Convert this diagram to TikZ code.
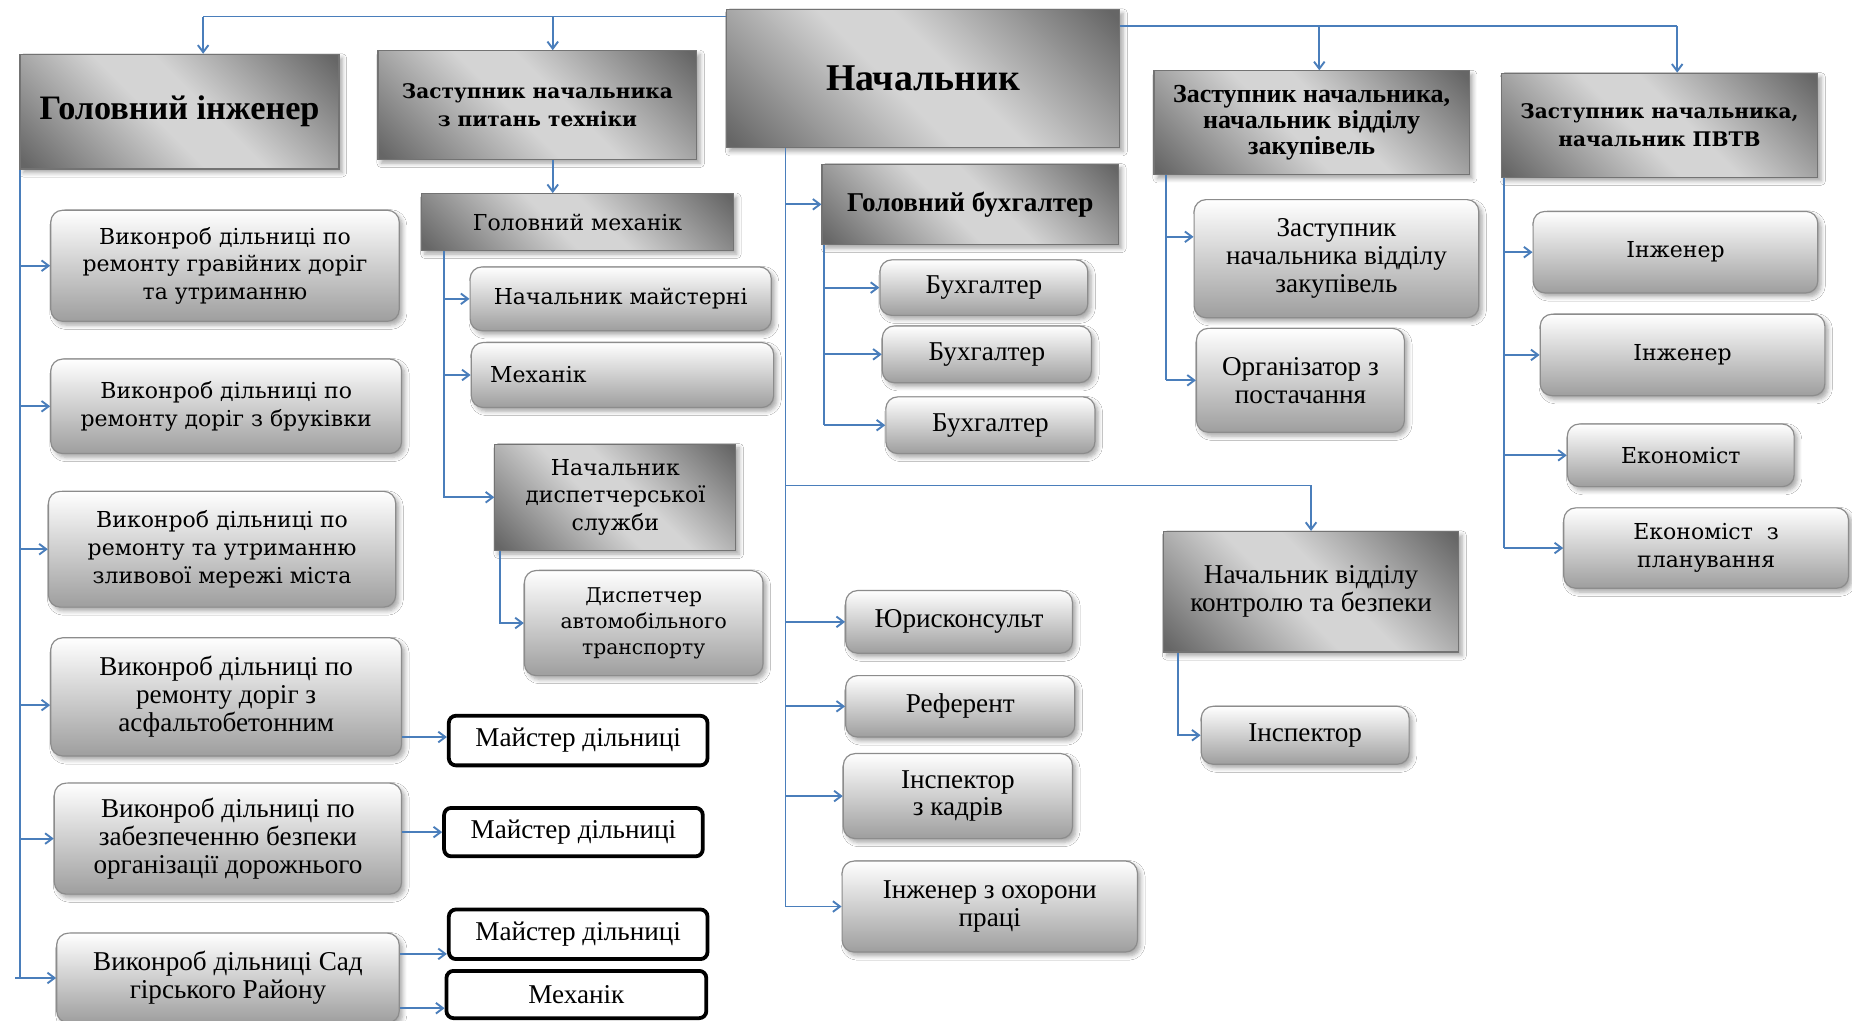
\documentclass[tikz,border=0pt]{standalone}
\usepackage{fontspec}
\setmainfont{Liberation Serif}
\newfontfamily\widefam{DejaVu Serif}
\usetikzlibrary{arrows.meta,shadows.blur,calc}
\definecolor{dkc}{HTML}{666666}
\definecolor{ltc}{HTML}{D4D4D4}
\definecolor{lnc}{HTML}{4A7EBB}
\pgfdeclareverticalshading{dkshade}{100bp}{color(0bp)=(dkc); color(16bp)=(dkc); color(45bp)=(ltc); color(55bp)=(ltc); color(84bp)=(dkc); color(100bp)=(dkc)}
\newcommand\ffA{\fontsize{11.5}{11.75}\selectfont}
\newcommand\ffB{\widefam\fontsize{9.3}{11.75}\selectfont}
\newcommand\ffC{\widefam\fontsize{8.6}{11}\selectfont}
\newcommand\ffD{\widefam\bfseries\fontsize{8.5}{11.5}\selectfont}
\newcommand\ffE{\bfseries\fontsize{11}{11}\selectfont}
\newcommand\putbox[7]{\node[#1, minimum width={(#5-#3)*0.5pt}, minimum height={(#6-#4)*0.5pt}] (#2) at ({(#3+#5)/2},{(#4+#6)/2}) {#7};}
\tikzset{
  shd/.style={blur shadow={shadow xshift=1.4pt, shadow yshift=-1.6pt, shadow blur steps=5, shadow opacity=35}},
  darkbox/.style={draw=black!55, line width=0.5pt, shading=dkshade, shading angle=-45, shd, align=center, inner sep=0pt},
  softbox/.style={draw=black!45, line width=0.5pt, rounded corners=5pt, top color=white, bottom color=black!38, shd, align=center, inner sep=0pt},
  mbox/.style={draw=black, line width=1.6pt, rounded corners=3pt, fill=white, align=center, inner sep=0pt},
  ln/.style={draw=lnc, line width=0.8pt},
  arr/.style={ln, -{Straight Barb[length=3pt,width=4.5pt]}},
}
\begin{document}
\begin{tikzpicture}[x=0.5pt,y=-0.5pt]
\fill[white] (0,0) rectangle (1568,864);
\useasboundingbox (0,0) rectangle (1568,864);
% top level
\putbox{darkbox, font=\bfseries\fontsize{14.5}{16}\selectfont}{gi}{17}{46}{287}{143}{Головний інженер}
\putbox{darkbox, font=\ffD}{zt}{320}{43}{590}{135}{Заступник начальника\\з питань техніки}
\putbox{darkbox, font=\bfseries\fontsize{16}{18}\selectfont}{nach}{615}{8}{948}{125}{Начальник}
\putbox{darkbox, font=\ffE}{zk}{977}{60}{1244}{148}{Заступник начальника,\\начальник відділу\\закупівель}
\putbox{darkbox, font=\ffD}{pv}{1271}{62}{1539}{150}{Заступник начальника,\\начальник ПВТВ}
% technics branch
\putbox{darkbox, font=\ffB}{gm}{357}{164}{621}{212}{Головний механік}
\putbox{softbox, font=\ffB}{nm}{398}{226}{653}{280}{Начальник майстерні}
\putbox{softbox, font=\ffB, text width=112pt, align=left}{me}{399}{290}{655}{345}{Механік}
\putbox{darkbox, font=\ffB}{nd}{419}{376}{623}{466}{Начальник\\диспетчерської\\служби}
\putbox{softbox, font=\ffC}{dis}{444}{483}{646}{572}{Диспетчер\\автомобільного\\транспорту}
% chief engineer branch
\putbox{softbox, font=\ffB}{v1}{43}{178}{338}{272}{Виконроб дільниці по\\ремонту гравійних доріг\\та утриманню}
\putbox{softbox, font=\ffB}{v2}{43}{304}{340}{384}{Виконроб дільниці по\\ремонту доріг з бруківки}
\putbox{softbox, font=\ffB}{v3}{41}{416}{335}{514}{Виконроб дільниці по\\ремонту та утриманню\\зливової мережі міста}
\putbox{softbox, font=\ffA}{v4}{43}{540}{340}{640}{Виконроб дільниці по\\ремонту доріг з\\асфальтобетонним}
\putbox{softbox, font=\ffA}{v5}{46}{663}{340}{757}{Виконроб дільниці по\\забезпеченню безпеки\\організації дорожнього}
\putbox{softbox, font=\ffA}{v6}{48}{790}{338}{866}{Виконроб дільниці Сад\\гірського Району}
\putbox{mbox, font=\ffA}{m1}{380}{606}{599}{648}{Майстер дільниці}
\putbox{mbox, font=\ffA}{m2}{376}{684}{595}{725}{Майстер дільниці}
\putbox{mbox, font=\ffA}{m3}{380}{770}{599}{812}{Майстер дільниці}
\putbox{mbox, font=\ffA}{m4}{378}{822}{598}{862}{Механік}
% chief branch
\putbox{darkbox, font=\bfseries\fontsize{11.5}{13}\selectfont}{gb}{696}{139}{947}{207}{Головний бухгалтер}
\putbox{softbox, font=\ffA}{b1}{745}{220}{921}{267}{Бухгалтер}
\putbox{softbox, font=\ffA}{b2}{747}{276}{924}{324}{Бухгалтер}
\putbox{softbox, font=\ffA}{b3}{750}{336}{927}{384}{Бухгалтер}
\putbox{softbox, font=\ffA}{yu}{716}{500}{908}{553}{Юрисконсульт}
\putbox{softbox, font=\ffA}{re}{716}{572}{910}{624}{Референт}
\putbox{softbox, font=\ffA}{ik}{714}{638}{908}{710}{Інспектор\\з кадрів}
\putbox{softbox, font=\ffA}{io}{713}{729}{963}{806}{Інженер з охорони\\праці}
\putbox{darkbox, font=\ffA}{nk}{985}{450}{1235}{552}{Начальник відділу\\контролю та безпеки}
\putbox{softbox, font=\ffA}{ins}{1017}{598}{1193}{647}{Інспектор}
% purchases
\putbox{softbox, font=\ffA}{zz}{1011}{169}{1252}{269}{Заступник\\начальника відділу\\закупівель}
\putbox{softbox, font=\ffA}{org}{1013}{278}{1189}{366}{Організатор з\\постачання}
% PVTV
\putbox{softbox, font=\ffB}{i1}{1298}{179}{1539}{248}{Інженер}
\putbox{softbox, font=\ffB}{i2}{1304}{266}{1545}{335}{Інженер}
\putbox{softbox, font=\ffB}{ek}{1327}{359}{1519}{412}{Економіст}
\putbox{softbox, font=\ffB}{ep}{1324}{430}{1565}{498}{Економіст\ \ з\\планування}
% ---------- connectors ----------
\coordinate (jTL) at (172,14);
\coordinate (jTM) at (468,14);
\coordinate (jTR1) at (1117,22);
\coordinate (jTR2) at (1420,22);
\draw[ln] (nach.west |- jTL) -- (jTL);
\draw[arr] (jTL) -- (jTL |- gi.north);
\draw[arr] (jTM) -- (jTM |- zt.north);
\draw[ln] (nach.east |- jTR1) -- (jTR2);
\draw[arr] (jTR1) -- (jTR1 |- zk.north);
\draw[arr] (jTR2) -- (jTR2 |- pv.north);
\draw[arr] (zt.south -| jTM) -- (jTM |- gm.north);
% chief mechanic
\coordinate (gmx) at (376,0);
\draw[arr] (gm.south -| gmx) |- (nd.west);
\draw[arr] (gmx |- nm.west) -- (nm.west);
\draw[arr] (gmx |- me.west) -- (me.west);
\coordinate (ndx) at (423,0);
\draw[arr] (nd.south -| ndx) |- (dis.west);
% chief engineer
\coordinate (gix) at (17,0);
\draw[ln] (gi.south -| gix) -- (gix |- v6.west);
\draw[arr] (gix |- v1.west) -- (v1.west);
\draw[arr] (gix |- v2.west) -- (v2.west);
\draw[arr] (gix |- v3.west) -- (v3.west);
\draw[arr] ($(gix |- v4.west)+(0,7)$) -- ($(v4.west)+(0,7)$);
\draw[arr] (gix |- v5.west) -- (v5.west);
\draw[arr] ($(gix |- v6.west)+(-4,0)$) -- (v6.west);
\draw[arr] ($(v4.east |- m1.west)+(0,-3)$) -- ($(m1.west)+(0,-3)$);
\draw[arr] (v5.east |- m2.west) -- (m2.west);
\draw[arr] ($(v6.east |- m3.south west)+(0,-6)$) -- ($(m3.south west)+(0,-6)$);
\draw[arr] ($(v6.east |- m4.south west)+(0,-10)$) -- ($(m4.south west)+(0,-10)$);
% chief
\coordinate (nx) at (665,0);
\coordinate (jK) at (1110,411);
\draw[ln] (nach.south -| nx) -- (nx |- io.west);
\draw[arr] (nx |- gb.west) -- (gb.west);
\draw[arr] (nx |- yu.west) -- (yu.west);
\draw[arr] (nx |- re.west) -- (re.west);
\draw[arr] (nx |- ik.west) -- (ik.west);
\draw[arr] (nx |- io.west) -- (io.west);
\draw[ln] (nx |- jK) -- (jK);
\draw[arr] (jK) -- (jK |- nk.north);
% accountant
\coordinate (gbx) at (698,0);
\draw[ln] (gb.south -| gbx) -- (gbx |- b3.west);
\draw[arr] (gbx |- b1.west) -- (b1.west);
\draw[arr] (gbx |- b2.west) -- (b2.west);
\draw[arr] (gbx |- b3.west) -- (b3.west);
% purchases
\coordinate (zkx) at (987,0);
\draw[ln] (zk.south -| zkx) -- (zkx |- org.west);
\draw[arr] ($(zkx |- zz.north west)+(0,32)$) -- ($(zz.north west)+(0,32)$);
\draw[arr] (zkx |- org.west) -- (org.west);
% PVTV
\coordinate (pvx) at (1273,0);
\draw[ln] (pv.south -| pvx) -- (pvx |- ep.west);
\draw[arr] (pvx |- i1.west) -- (i1.west);
\draw[arr] (pvx |- i2.west) -- (i2.west);
\draw[arr] (pvx |- ek.west) -- (ek.west);
\draw[arr] (pvx |- ep.west) -- (ep.west);
% control
\coordinate (nkx) at (997,0);
\draw[arr] (nk.south -| nkx) |- (ins.west);
\end{tikzpicture}
\end{document}
